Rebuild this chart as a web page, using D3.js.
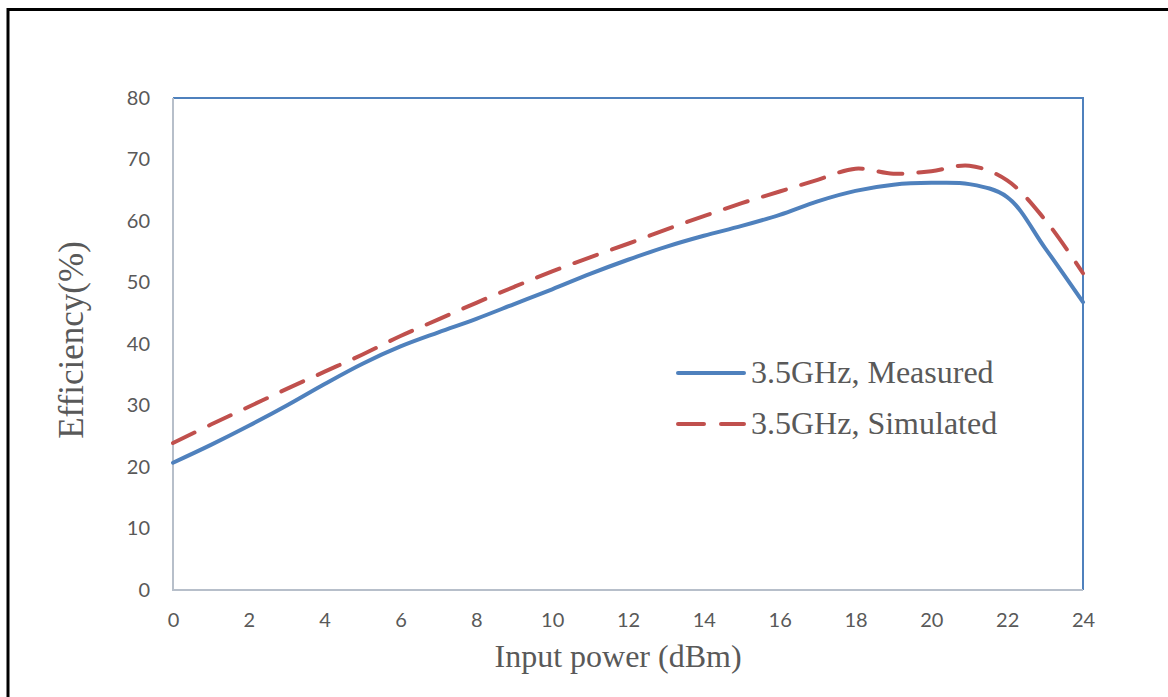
<!DOCTYPE html>
<html>
<head>
<meta charset="utf-8">
<script src="https://cdn.jsdelivr.net/npm/d3@7"></script>
<style>
  html, body { margin: 0; padding: 0; background: #fff; }
  svg { display: block; }
</style>
</head>
<body>
<svg id="chart" width="1168" height="697"></svg>
<script>
// Input power sweep (dBm)
const inputPower = [0,1,2,3,4,5,6,7,8,9,10,11,12,13,14,15,16,17,18,19,20,21,22,23,24];
// Drain efficiency (%) at 3.5 GHz
const measured  = [20.7,23.6,26.7,30.0,33.5,36.8,39.6,41.9,44.1,46.5,48.9,51.4,53.7,55.8,57.6,59.2,61.0,63.2,64.9,65.9,66.2,66.0,63.9,55.6,46.8];
const simulated = [23.9,26.9,29.8,32.7,35.5,38.3,41.3,44.0,46.7,49.3,51.8,54.1,56.3,58.6,60.8,62.9,64.8,66.7,68.5,67.7,68.1,69.0,66.6,60.2,51.5];
const xTicks = [0,2,4,6,8,10,12,14,16,18,20,22,24];
const yTicks = [0,10,20,30,40,50,60,70,80];
const seriesNames = ["3.5GHz, Measured", "3.5GHz, Simulated"];
const xTitle = "Input power (dBm)";
const yTitle = "Efficiency(%)";

const svg = d3.select("#chart");
const plot = { left: 173, right: 1083, top: 98, bottom: 590 };
const textGray = "#595959";
const blue = "#4F81BD", red = "#C0504D";

// outer frame
svg.append("path")
  .attr("d", "M8,700 L8,9.5 L1170,9.5")
  .attr("fill", "none").attr("stroke", "#000").attr("stroke-width", 3);

const x = d3.scaleLinear().domain([0, 24]).range([plot.left, plot.right]);
const y = d3.scaleLinear().domain([0, 80]).range([plot.bottom, plot.top]);

// plot area border: blue top/right, grey left/bottom
svg.append("line").attr("x1", plot.left).attr("x2", plot.right + 1).attr("y1", plot.top).attr("y2", plot.top)
  .attr("stroke", blue).attr("stroke-width", 2);
svg.append("line").attr("x1", plot.right).attr("x2", plot.right).attr("y1", plot.top).attr("y2", plot.bottom)
  .attr("stroke", blue).attr("stroke-width", 2);
svg.append("line").attr("x1", plot.left).attr("x2", plot.left).attr("y1", plot.top).attr("y2", plot.bottom + 1)
  .attr("stroke", "#B7BFCA").attr("stroke-width", 2);
svg.append("line").attr("x1", plot.left).attr("x2", plot.right).attr("y1", plot.bottom).attr("y2", plot.bottom)
  .attr("stroke", "#B7BFCA").attr("stroke-width", 2);

// axes (labels only)
const tickFont = "Lato, 'Open Sans', sans-serif";
const gx = svg.append("g").attr("transform", `translate(0,${plot.bottom})`)
  .call(d3.axisBottom(x).tickValues(xTicks).tickSize(0).tickPadding(23).tickFormat(d3.format("d")));
gx.select(".domain").remove();
gx.selectAll("text").attr("fill", textGray).style("font-family", tickFont).style("font-size", "20px");

const gy = svg.append("g").attr("transform", `translate(${plot.left},0)`)
  .call(d3.axisLeft(y).tickValues(yTicks).tickSize(0).tickPadding(23).tickFormat(d3.format("d")));
gy.select(".domain").remove();
gy.selectAll("text").attr("fill", textGray).style("font-family", tickFont).style("font-size", "20px");

// series
const line = d3.line().x(d => x(d[0])).y(d => y(d[1])).curve(d3.curveCatmullRom.alpha(0.5));
const measPts = inputPower.map((p, i) => [p, measured[i]]);
const simPts = inputPower.map((p, i) => [p, simulated[i]]);

svg.append("path").datum(simPts).attr("d", line)
  .attr("fill", "none").attr("stroke", red).attr("stroke-width", 4)
  .attr("stroke-linecap", "round").attr("stroke-dasharray", "24 16");
svg.append("path").datum(measPts).attr("d", line)
  .attr("fill", "none").attr("stroke", blue).attr("stroke-width", 4)
  .attr("stroke-linecap", "round");

// axis titles
const serif = "'Liberation Serif', 'Times New Roman', serif";
svg.append("text").attr("x", 618).attr("y", 667).attr("text-anchor", "middle")
  .attr("fill", textGray).style("font-family", serif).style("font-size", "32px").text(xTitle);
svg.append("text").attr("transform", "translate(83,340) rotate(-90)").attr("text-anchor", "middle")
  .attr("fill", textGray).style("font-family", serif).style("font-size", "35px").text(yTitle);

// legend
const legend = svg.append("g");
const legendRows = [
  { name: seriesNames[0], color: blue, dash: null, y: 373 },
  { name: seriesNames[1], color: red, dash: "26 17", y: 424 }
];
legendRows.forEach(r => {
  legend.append("line").attr("x1", 678).attr("x2", 744).attr("y1", r.y).attr("y2", r.y)
    .attr("stroke", r.color).attr("stroke-width", 4).attr("stroke-linecap", "round")
    .attr("stroke-dasharray", r.dash);
  legend.append("text").attr("x", 751).attr("y", r.y + 10)
    .attr("fill", textGray).style("font-family", serif).style("font-size", "32px").text(r.name);
});
</script>
</body>
</html>
